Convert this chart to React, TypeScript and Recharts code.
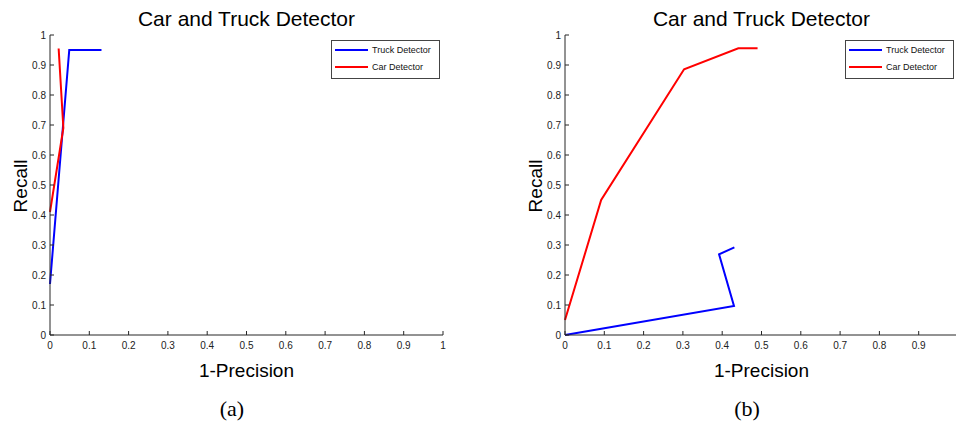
import React from 'react';
import { LineChart, Line, XAxis, YAxis } from 'recharts';

// ---- text ----
const chartTitle = 'Car and Truck Detector';
const xAxisTitle = '1-Precision';
const yAxisTitle = 'Recall';
const captions = ['(a)', '(b)'];
const seriesNames = ['Truck Detector', 'Car Detector'];
const seriesColors = ['#0000ff', '#ff0000'];

// ---- ticks ----
const yTicks = [0, 0.1, 0.2, 0.3, 0.4, 0.5, 0.6, 0.7, 0.8, 0.9, 1];
const xTicksA = [0, 0.1, 0.2, 0.3, 0.4, 0.5, 0.6, 0.7, 0.8, 0.9, 1];
const xTicksB = [0, 0.1, 0.2, 0.3, 0.4, 0.5, 0.6, 0.7, 0.8, 0.9];

// ---- data: panel (a) ----
const truckA_x = [0, 0.049, 0.131];
const truckA_y = [0.17, 0.95, 0.95];
const carA_x = [0, 0.034, 0.022];
const carA_y = [0.41, 0.69, 0.955];

// ---- data: panel (b) ----
const truckB_x = [0, 0.43, 0.392, 0.431];
const truckB_y = [0, 0.097, 0.269, 0.292];
const carB_x = [0, 0.092, 0.303, 0.441, 0.49];
const carB_y = [0.05, 0.45, 0.886, 0.956, 0.956];

const zip = (xs: number[], ys: number[]) => xs.map((x, i) => ({ x, y: ys[i] }));

const SANS = '"Liberation Sans", Arial, Helvetica, sans-serif';
const AXIS = '#262626';

const XTick = (props: any) => {
  const { x, y, payload } = props;
  return (
    <g>
      <line x1={x} y1={y} x2={x} y2={y - 4} stroke={AXIS} strokeWidth={1} />
      <text x={x} y={y + 14} textAnchor="middle" fontSize={10} fill="#222" fontFamily={SANS}>
        {String(payload.value)}
      </text>
    </g>
  );
};

const YTick = (props: any) => {
  const { x, y, payload } = props;
  return (
    <g>
      <line x1={x} y1={y} x2={x + 4} y2={y} stroke={AXIS} strokeWidth={1} />
      <text x={x - 4} y={y} dy="0.35em" textAnchor="end" fontSize={10} fill="#222" fontFamily={SANS}>
        {String(payload.value)}
      </text>
    </g>
  );
};

type PanelProps = {
  width: number;
  margin: { top: number; right: number; bottom: number; left: number };
  xTicks: number[];
  truck: { x: number; y: number }[];
  car: { x: number; y: number }[];
};

const Panel = ({ width, margin, xTicks, truck, car }: PanelProps) => (
  <LineChart width={width} height={421} margin={margin}>
    <XAxis
      type="number"
      dataKey="x"
      domain={[0, 1]}
      ticks={xTicks}
      interval={0}
      height={1}
      tickSize={0}
      tickMargin={0}
      tickLine={false}
      axisLine={{ stroke: AXIS, strokeWidth: 1 }}
      tick={<XTick />}
    />
    <YAxis
      type="number"
      dataKey="y"
      domain={[0, 1]}
      ticks={yTicks}
      interval={0}
      width={1}
      tickSize={0}
      tickMargin={0}
      tickLine={false}
      axisLine={{ stroke: AXIS, strokeWidth: 1 }}
      tick={<YTick />}
    />
    <Line
      data={truck}
      dataKey="y"
      name={seriesNames[0]}
      type="linear"
      stroke={seriesColors[0]}
      strokeWidth={2}
      dot={false}
      activeDot={false}
      isAnimationActive={false}
    />
    <Line
      data={car}
      dataKey="y"
      name={seriesNames[1]}
      type="linear"
      stroke={seriesColors[1]}
      strokeWidth={2}
      dot={false}
      activeDot={false}
      isAnimationActive={false}
    />
  </LineChart>
);

const LegendBox = ({ left, top }: { left: number; top: number }) => (
  <g>
    <rect x={left + 0.5} y={top + 0.5} width={108} height={38} fill="#fff" stroke="#444" strokeWidth={1} />
    {seriesNames.map((n, i) => (
      <g key={n}>
        <line
          x1={left + 4}
          x2={left + 37}
          y1={top + 10 + i * 17}
          y2={top + 10 + i * 17}
          stroke={seriesColors[i]}
          strokeWidth={2}
        />
        <text x={left + 41} y={top + 10 + i * 17} dy="0.35em" fontSize={9} fill="#111" fontFamily={SANS}>
          {n}
        </text>
      </g>
    ))}
  </g>
);

const PanelText = ({ cx, yLabelX, caption, captionX }: { cx: number; yLabelX: number; caption: string; captionX: number }) => (
  <g>
    <text x={cx} y={26} textAnchor="middle" fontSize={21} fill="#000" fontFamily={SANS}>
      {chartTitle}
    </text>
    <text x={cx} y={377} textAnchor="middle" fontSize={19} fill="#000" fontFamily={SANS}>
      {xAxisTitle}
    </text>
    <text
      x={yLabelX}
      y={186}
      textAnchor="middle"
      fontSize={19}
      fill="#000"
      fontFamily={SANS}
      transform={`rotate(-90 ${yLabelX} 186)`}
    >
      {yAxisTitle}
    </text>
    <text x={captionX} y={416} textAnchor="middle" fontSize={22} fill="#000" fontFamily='"Liberation Serif", "DejaVu Serif", serif'>
      {caption}
    </text>
  </g>
);

export default function App() {
  return (
    <div
      style={{
        position: 'absolute',
        left: 0,
        top: 0,
        width: 956,
        height: 421,
        overflow: 'hidden',
        background: '#fff',
      }}
    >
      <div style={{ position: 'absolute', left: 0, top: 0 }}>
        <Panel
          width={480}
          margin={{ top: 35, right: 37, bottom: 85, left: 49 }}
          xTicks={xTicksA}
          truck={zip(truckA_x, truckA_y)}
          car={zip(carA_x, carA_y)}
        />
      </div>
      <div style={{ position: 'absolute', left: 478, top: 0 }}>
        <Panel
          width={500}
          margin={{ top: 35, right: 20, bottom: 85, left: 86 }}
          xTicks={xTicksB}
          truck={zip(truckB_x, truckB_y)}
          car={zip(carB_x, carB_y)}
        />
      </div>
      <svg
        width={956}
        height={421}
        style={{ position: 'absolute', left: 0, top: 0, pointerEvents: 'none' }}
      >
        <PanelText cx={246.5} yLabelX={27} caption={captions[0]} captionX={232} />
        <PanelText cx={761.5} yLabelX={542} caption={captions[1]} captionX={747} />
        <LegendBox left={331} top={40} />
        <LegendBox left={845} top={40} />
      </svg>
    </div>
  );
}
